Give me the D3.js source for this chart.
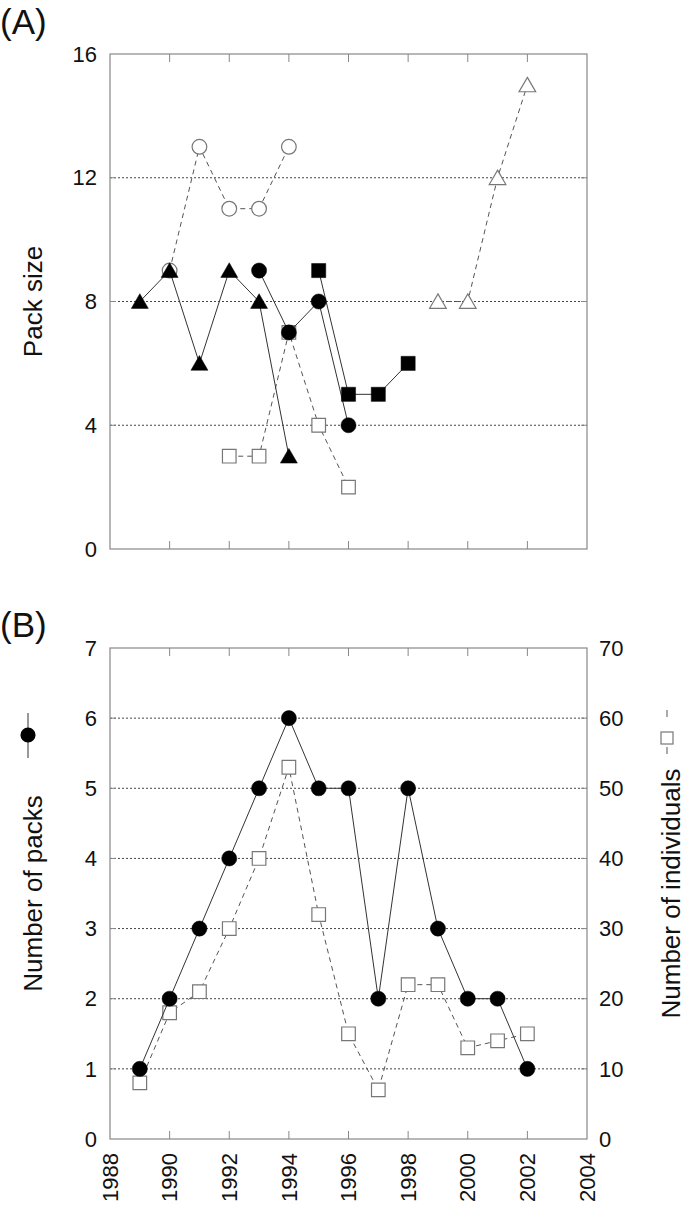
<!DOCTYPE html>
<html><head><meta charset="utf-8">
<script src="https://cdn.jsdelivr.net/npm/d3@7"></script>
<style>
body{margin:0;background:#fff}
svg{display:block}
text{font-family:"Liberation Sans",Arial,Helvetica,sans-serif;fill:#111}
</style>
</head><body>
<svg id="c" width="685" height="1206"></svg>
<script>
// ---------- Data ----------
// Panel A: pack size of individual packs over time
const triFilledYears = [1989, 1990, 1991, 1992, 1993, 1994];
const triFilledSize  = [8, 9, 6, 9, 8, 3];
const circFilledYears = [1993, 1994, 1995, 1996];
const circFilledSize  = [9, 7, 8, 4];
const sqFilledYears = [1995, 1996, 1997, 1998];
const sqFilledSize  = [9, 5, 5, 6];
const circOpenYears = [1990, 1991, 1992, 1993, 1994];
const circOpenSize  = [9, 13, 11, 11, 13];
const sqOpenYears = [1992, 1993, 1994, 1995, 1996];
const sqOpenSize  = [3, 3, 7, 4, 2];
const triOpenYears = [1999, 2000, 2001, 2002];
const triOpenSize  = [8, 8, 12, 15];

// Panel B
const bYears = [1989, 1990, 1991, 1992, 1993, 1994, 1995, 1996, 1997, 1998, 1999, 2000, 2001, 2002];
const numPacks = [1, 2, 3, 4, 5, 6, 5, 5, 2, 5, 3, 2, 2, 1];
const numIndividuals = [8, 18, 21, 30, 40, 53, 32, 15, 7, 22, 22, 13, 14, 15];

// Ticks
const xTicks = [1988, 1990, 1992, 1994, 1996, 1998, 2000, 2002, 2004];
const aYTicks = [0, 4, 8, 12, 16];
const bLeftTicks = [0, 1, 2, 3, 4, 5, 6, 7];
const bRightTicks = [0, 10, 20, 30, 40, 50, 60, 70];

// ---------- Layout ----------
const svg = d3.select("#c");
const L = 110, R = 587;
const A = {top: 54, bottom: 549};
const B = {top: 648, bottom: 1139};

const xA = d3.scaleLinear().domain([1988, 2004]).range([L, R]);
const yA = d3.scaleLinear().domain([0, 16]).range([A.bottom, A.top]);
const xB = d3.scaleLinear().domain([1988, 2004]).range([L, R]);
const yB = d3.scaleLinear().domain([0, 7]).range([B.bottom, B.top]);
const yB2 = d3.scaleLinear().domain([0, 70]).range([B.bottom, B.top]);

const GRID = "#444", FRAME = "#888", LINE = "#333", OPEN = "#777";

function frame(g, x, y, ticksY, top, bottom) {
  const inY = ticksY.filter(d => y(d) > top + 1 && y(d) < bottom - 1);
  g.append("g").selectAll("line").data(inY).join("line")
    .attr("x1", L).attr("x2", R).attr("y1", d => y(d)).attr("y2", d => y(d))
    .attr("stroke", GRID).attr("stroke-width", 1).attr("stroke-dasharray", "2,2");
  g.append("g").selectAll("line").data(inY).join("line")
    .attr("x1", L).attr("x2", L + 6).attr("y1", d => y(d)).attr("y2", d => y(d))
    .attr("stroke", FRAME);
  g.append("g").selectAll("line").data(inY).join("line")
    .attr("x1", R - 6).attr("x2", R).attr("y1", d => y(d)).attr("y2", d => y(d))
    .attr("stroke", FRAME);
  const inner = xTicks.slice(1, -1);
  g.append("g").selectAll("line").data(inner).join("line")
    .attr("x1", d => x(d)).attr("x2", d => x(d)).attr("y1", top).attr("y2", top + 8)
    .attr("stroke", FRAME);
  g.append("g").selectAll("line").data(inner).join("line")
    .attr("x1", d => x(d)).attr("x2", d => x(d)).attr("y1", bottom).attr("y2", bottom - 8)
    .attr("stroke", FRAME);
  g.append("rect").attr("x", L).attr("y", top).attr("width", R - L).attr("height", bottom - top)
    .attr("fill", "none").attr("stroke", FRAME).attr("stroke-width", 1.2);
}

const sym = {
  circle: d3.symbol().type(d3.symbolCircle).size(180),
  square: d3.symbol().type(d3.symbolSquare).size(200),
  triangle: d3.symbol().type(d3.symbolTriangle).size(125),
  circleO: d3.symbol().type(d3.symbolCircle).size(170),
  squareO: d3.symbol().type(d3.symbolSquare).size(185),
  triangleO: d3.symbol().type(d3.symbolTriangle).size(120)
};

function series(g, x, y, xs, ys, shape, filled) {
  const pts = xs.map((d, i) => [d, ys[i]]);
  const line = d3.line().x(d => x(d[0])).y(d => y(d[1]));
  return {
    line: () => g.append("path").datum(pts).attr("d", line).attr("fill", "none")
      .attr("stroke", filled ? LINE : "#555").attr("stroke-width", 1)
      .attr("stroke-dasharray", filled ? null : "5,4"),
    marks: () => g.append("g").selectAll("path").data(pts).join("path")
      .attr("transform", d => `translate(${x(d[0])},${y(d[1]) + (shape.startsWith("triangle") ? 2 : 0)})`)
      .attr("d", sym[shape])
      .attr("fill", filled ? "#000" : "#fff")
      .attr("stroke", filled ? "#000" : OPEN).attr("stroke-width", filled ? 0.5 : 1.2)
  };
}

// ---------- Panel A ----------
const gA = svg.append("g");
frame(gA, xA, yA, aYTicks, A.top, A.bottom);
gA.append("g").selectAll("text").data(aYTicks).join("text")
  .attr("x", 97).attr("y", d => yA(d)).attr("dy", "0.35em").attr("text-anchor", "end")
  .attr("font-size", 22).text(d => d);
gA.append("text").attr("transform", `translate(42,${(A.top + A.bottom) / 2}) rotate(-90)`)
  .attr("text-anchor", "middle").attr("font-size", 26).text("Pack size");
svg.append("text").attr("x", 0).attr("y", 34).attr("font-size", 35).text("(A)");

const sA = [
  series(gA, xA, yA, circOpenYears, circOpenSize, "circleO", false),
  series(gA, xA, yA, sqOpenYears, sqOpenSize, "squareO", false),
  series(gA, xA, yA, triOpenYears, triOpenSize, "triangleO", false),
  series(gA, xA, yA, triFilledYears, triFilledSize, "triangle", true),
  series(gA, xA, yA, circFilledYears, circFilledSize, "circle", true),
  series(gA, xA, yA, sqFilledYears, sqFilledSize, "square", true)
];
sA.slice(0, 3).forEach(s => s.line());
sA.slice(0, 3).forEach(s => s.marks());
sA.slice(3).forEach(s => s.line());
sA.slice(3).forEach(s => s.marks());

// ---------- Panel B ----------
const gB = svg.append("g");
frame(gB, xB, yB, bLeftTicks, B.top, B.bottom);
gB.append("g").selectAll("text").data(bLeftTicks).join("text")
  .attr("x", 97).attr("y", d => yB(d)).attr("dy", "0.35em").attr("text-anchor", "end")
  .attr("font-size", 22).text(d => d);
gB.append("g").selectAll("text").data(bRightTicks).join("text")
  .attr("x", 599).attr("y", d => yB2(d)).attr("dy", "0.35em").attr("text-anchor", "start")
  .attr("font-size", 22).text(d => d);
gB.append("g").selectAll("text").data(xTicks).join("text")
  .attr("transform", d => `translate(${xB(d)},1153) rotate(-90)`)
  .attr("dy", "0.35em").attr("text-anchor", "end")
  .attr("font-size", 22).text(d => d);
svg.append("text").attr("x", 0).attr("y", 637).attr("font-size", 35).text("(B)");

const midB = (B.top + B.bottom) / 2;
gB.append("text").attr("transform", `translate(42,${midB}) rotate(-90)`)
  .attr("text-anchor", "middle").attr("font-size", 26).text("Number of packs");
gB.append("line").attr("x1", 28).attr("x2", 28).attr("y1", 713).attr("y2", 758).attr("stroke", LINE);
gB.append("path").attr("transform", "translate(28,735)").attr("d", sym.circle).attr("fill", "#000");

gB.append("text").attr("transform", `translate(680,${midB}) rotate(-90)`)
  .attr("text-anchor", "middle").attr("font-size", 26).text("Number of individuals");
gB.append("line").attr("x1", 667).attr("x2", 667).attr("y1", 710).attr("y2", 717).attr("stroke", "#555");
gB.append("line").attr("x1", 667).attr("x2", 667).attr("y1", 747).attr("y2", 754).attr("stroke", "#555");
gB.append("rect").attr("x", 661).attr("y", 732).attr("width", 12).attr("height", 12)
  .attr("fill", "#fff").attr("stroke", OPEN).attr("stroke-width", 1.2);

const indS = series(gB, xB, yB2, bYears, numIndividuals, "squareO", false);
const packS = series(gB, xB, yB, bYears, numPacks, "circle", true);
indS.line(); indS.marks();
packS.line(); packS.marks();
</script>
</body></html>
